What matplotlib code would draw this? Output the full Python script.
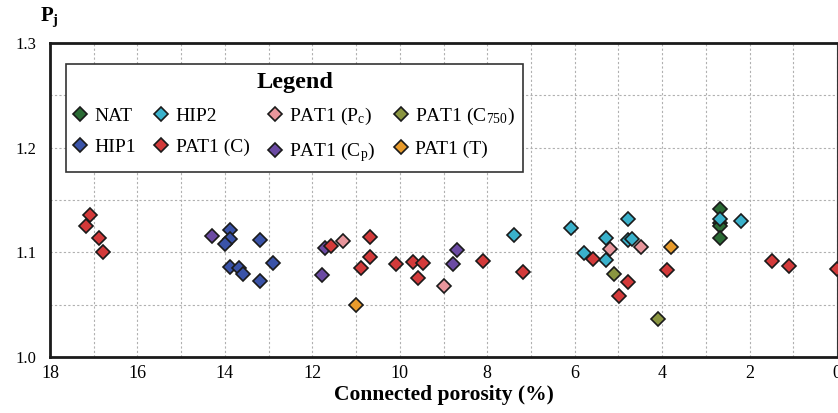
import matplotlib
matplotlib.use("Agg")
import matplotlib.pyplot as plt
from matplotlib.lines import Line2D
from matplotlib.ticker import MultipleLocator

plt.rcParams['font.family'] = ['Liberation Serif', 'DejaVu Serif']
plt.rcParams['mathtext.fontset'] = 'custom'
plt.rcParams['mathtext.rm'] = 'Liberation Serif'
plt.rcParams['mathtext.bf'] = 'Liberation Serif:bold'
plt.rcParams['mathtext.it'] = 'Liberation Serif:italic'

# ---- data (connected porosity %, Pj) ----
nat_x = [2.68, 2.68, 2.68, 2.68]
nat_y = [1.141, 1.128, 1.125, 1.114]

hip1_x = [13.89, 13.88, 13.99, 13.20, 12.89, 13.89, 13.68, 13.58, 13.19]
hip1_y = [1.1216, 1.113, 1.108, 1.112, 1.090, 1.0857, 1.085, 1.079, 1.073]

hip2_x = [7.38, 6.08, 5.78, 5.28, 5.28, 4.77, 4.77, 4.68, 2.68, 2.19]
hip2_y = [1.117, 1.1235, 1.099, 1.114, 1.093, 1.132, 1.112, 1.113, 1.132, 1.1295]

patc_x = [17.09, 17.18, 16.88, 16.78, 11.58, 10.69, 10.69, 10.89, 10.09, 9.69,
          9.48, 9.58, 8.09, 7.19, 5.58, 4.79, 4.99, 3.88, 1.49, 1.09, 0.0]
patc_y = [1.136, 1.125, 1.114, 1.100, 1.1057, 1.1146, 1.0955, 1.0854, 1.0886, 1.0908,
          1.0895, 1.0755, 1.0917, 1.0816, 1.0933, 1.0717, 1.0587, 1.0829, 1.0917, 1.0873, 1.0845]

patpc_x = [11.30, 8.99, 5.19, 4.49]
patpc_y = [1.111, 1.068, 1.1035, 1.1048]

patcp_x = [14.29, 11.79, 11.71, 8.79, 8.69]
patcp_y = [1.1155, 1.0788, 1.1045, 1.0886, 1.102]

patc750_x = [5.09, 4.09]
patc750_y = [1.079, 1.0365]

patt_x = [10.99, 3.79]
patt_y = [1.0495, 1.1048]

x_ticks = [18, 16, 14, 12, 10, 8, 6, 4, 2, 0]
y_ticks = [1.0, 1.1, 1.2, 1.3]

series = {
    'NAT': (nat_x, nat_y, '#2b6b35'),
    'HIP1': (hip1_x, hip1_y, '#3a53a8'),
    'HIP2': (hip2_x, hip2_y, '#3ab1cb'),
    'PAT1 (C)': (patc_x, patc_y, '#d33a3a'),
    'PAT1 (P$_{\\mathrm{c}}$)': (patpc_x, patpc_y, '#e8969c'),
    'PAT1 (C$_{\\mathrm{p}}$)': (patcp_x, patcp_y, '#6b4aa3'),
    'PAT1 (C$_{\\mathrm{750}}$)': (patc750_x, patc750_y, '#8a9540'),
    'PAT1 (T)': (patt_x, patt_y, '#e89b2c'),
}
draw_order = ['NAT', 'HIP1', 'HIP2', 'PAT1 (C$_{\\mathrm{p}}$)', 'PAT1 (P$_{\\mathrm{c}}$)',
              'PAT1 (C$_{\\mathrm{750}}$)', 'PAT1 (T)', 'PAT1 (C)']
legend_order = ['NAT', 'HIP1', 'HIP2', 'PAT1 (C)', 'PAT1 (P$_{\\mathrm{c}}$)',
                'PAT1 (C$_{\\mathrm{p}}$)', 'PAT1 (C$_{\\mathrm{750}}$)', 'PAT1 (T)']

fig = plt.figure(figsize=(8.38, 4.13), dpi=100)
ax = fig.add_axes([50 / 838, 1 - 357 / 413, 787 / 838, 314 / 413])

ms = 6.8
for name in draw_order:
    xs, ys, c = series[name]
    ax.plot(xs, ys, linestyle='none', marker='D', markersize=ms,
            markerfacecolor=c, markeredgecolor='#1a1a1a', markeredgewidth=1.2,
            zorder=3, clip_on=False)

ax.set_xlim(18, 0)
ax.set_ylim(1.0, 1.3)
ax.set_xticks(x_ticks)
ax.set_yticks(y_ticks)
ax.set_yticklabels([f'{v:.1f}' for v in y_ticks])
ax.xaxis.set_minor_locator(MultipleLocator(1))
ax.yaxis.set_minor_locator(MultipleLocator(0.05))
ax.grid(True, which='both', linestyle=(0, (2, 2)), color='#b0b0b0', linewidth=0.8, zorder=0)
ax.set_axisbelow(True)
ax.tick_params(which='both', length=0)
ax.tick_params(axis='x', labelsize=13, pad=6)
ax.tick_params(axis='y', labelsize=12, pad=10)

for s in ['left', 'bottom', 'top']:
    ax.spines[s].set_linewidth(2.0)
    ax.spines[s].set_color('#1a1a1a')
ax.spines['right'].set_linewidth(0.8)
ax.spines['right'].set_color('#333333')

ax.set_xlabel('Connected porosity (%)', fontsize=15.5, fontweight='bold', labelpad=2)
fig.text(40 / 838, 1 - 17 / 413, 'P$_{\\mathbf{j}}$', fontsize=15, fontweight='bold',
         va='center', ha='left')

handles = []
for name in legend_order:
    xs, ys, c = series[name]
    handles.append(Line2D([], [], linestyle='none', marker='D', markersize=ms,
                          markerfacecolor=c, markeredgecolor='#1a1a1a', markeredgewidth=1.2))
leg = ax.legend(handles, legend_order, ncol=4, loc='upper left',
                bbox_to_anchor=(16 / 787, 293 / 314), borderaxespad=0,
                fontsize=14, title='Legend',
                title_fontproperties={'weight': 'bold', 'size': 17.5},
                handlelength=0.6, handletextpad=0.45, columnspacing=1.0,
                labelspacing=0.68, borderpad=0.4, fancybox=False, framealpha=1,
                edgecolor='#333333')
leg.get_frame().set_linewidth(1.2)
leg.set_zorder(5)

fig.savefig('out.png', dpi=100)
